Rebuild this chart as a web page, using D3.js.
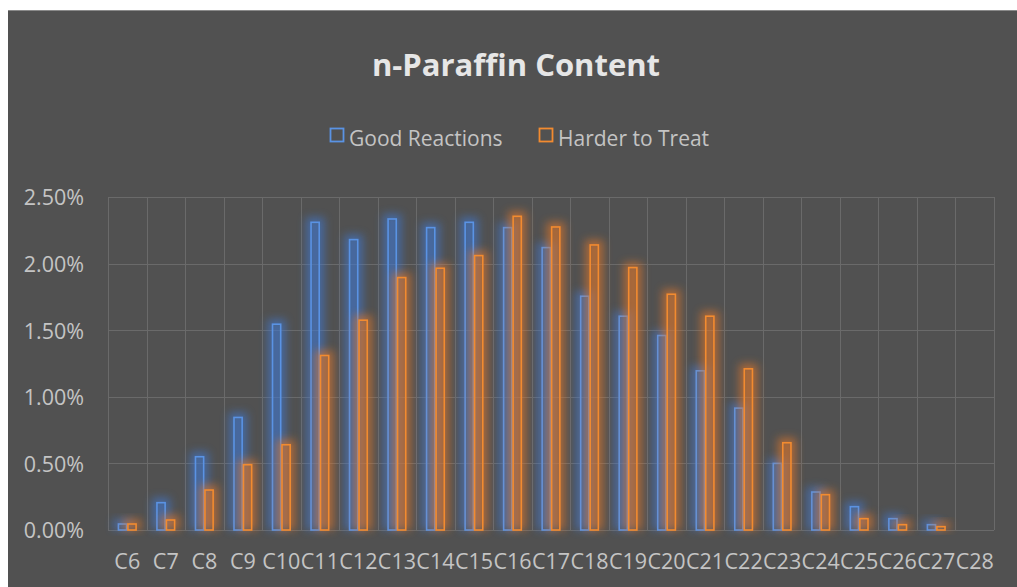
<!DOCTYPE html>
<html>
<head>
<meta charset="utf-8">
<script src="https://cdn.jsdelivr.net/npm/d3@7/dist/d3.min.js"></script>
<style>
  html, body { margin: 0; padding: 0; background: #ffffff; }
  svg { display: block; }
</style>
</head>
<body>
<svg id="chart" width="1017" height="587"></svg>
<script>
const categories = ["C6","C7","C8","C9","C10","C11","C12","C13","C14","C15","C16","C17","C18","C19","C20","C21","C22","C23","C24","C25","C26","C27","C28"];
const seriesNames = ["Good Reactions", "Harder to Treat"];
const goodReactions = [0.045,0.205,0.55,0.845,1.545,2.31,2.18,2.335,2.27,2.31,2.27,2.12,1.755,1.605,1.46,1.195,0.915,0.50,0.285,0.175,0.085,0.04,0];
const harderToTreat = [0.045,0.075,0.30,0.49,0.64,1.31,1.575,1.895,1.965,2.06,2.355,2.275,2.14,1.97,1.77,1.605,1.21,0.655,0.265,0.085,0.04,0.025,0];
const yTicks = [0, 0.5, 1.0, 1.5, 2.0, 2.5];
const colors = ["#5a93e4", "#f28b30"];
const glowColors = ["#3f78d0", "#e0772a"];

const svg = d3.select("#chart");
const W = 1017, H = 587;
const font = "'Open Sans', sans-serif";

// chart background
svg.append("rect").attr("x", 8).attr("y", 10).attr("width", W - 8).attr("height", H - 10)
  .attr("fill", "#515151");
svg.append("line").attr("x1", 8).attr("x2", W).attr("y1", 10.5).attr("y2", 10.5)
  .attr("stroke", "#8a8a8a").attr("stroke-width", 1);

const defs = svg.append("defs");
const f = defs.append("filter").attr("id", "glow")
  .attr("x", "-200%").attr("y", "-50%").attr("width", "500%").attr("height", "200%");
f.append("feGaussianBlur").attr("stdDeviation", 4);

const plot = { left: 108, right: 994, top: 197, bottom: 530 };

const x = d3.scaleBand().domain(categories).range([plot.left, plot.right]).paddingInner(0).paddingOuter(0);
const x1 = d3.scaleBand().domain(seriesNames).range([0, x.bandwidth()]).paddingInner(0.14).paddingOuter(1.1);
const y = d3.scaleLinear().domain([0, 2.5]).range([plot.bottom, plot.top]);

// gridlines
const grid = svg.append("g");
grid.selectAll("line.h").data(yTicks).join("line")
  .attr("x1", plot.left).attr("x2", plot.right)
  .attr("y1", d => Math.round(y(d)) + 0.5).attr("y2", d => Math.round(y(d)) + 0.5)
  .attr("stroke", "#6a6a6a").attr("stroke-width", 1);
const vlines = categories.map(c => x(c)).concat([plot.right]);
grid.selectAll("line.v").data(vlines).join("line")
  .attr("x1", d => Math.round(d) + 0.5).attr("x2", d => Math.round(d) + 0.5)
  .attr("y1", plot.top).attr("y2", plot.bottom)
  .attr("stroke", "#6a6a6a").attr("stroke-width", 1);

// title
svg.append("text").attr("x", 516).attr("y", 76).attr("text-anchor", "middle")
  .attr("font-family", font).attr("font-weight", "bold").attr("font-size", 31)
  .attr("fill", "#e6e6e6").text("n-Paraffin Content");

// legend
const legendItems = [{ name: seriesNames[0], x: 330 }, { name: seriesNames[1], x: 539 }];
legendItems.forEach((d, i) => {
  svg.append("rect").attr("x", d.x + 0.5).attr("y", 128.5).attr("width", 13).attr("height", 13)
    .attr("fill", "none").attr("stroke", colors[i]).attr("stroke-width", 1.8);
  svg.append("text").attr("x", d.x + 19).attr("y", 146)
    .attr("font-family", font).attr("font-size", 21).attr("fill", "#c4c4c4").text(d.name);
});

// bars
const seriesData = [goodReactions, harderToTreat];
seriesData.forEach((vals, si) => {
  const g = svg.append("g");
  const data = categories.map((c, i) => ({ c, v: vals[i] })).filter(d => d.v > 0);
  const bx = d => x(d.c) + x1(seriesNames[si]);
  const bw = x1.bandwidth();
  g.selectAll("rect.glow").data(data).join("rect")
    .attr("x", d => bx(d) - 5).attr("y", d => y(d.v) - 5)
    .attr("width", bw + 10).attr("height", d => y(0) - y(d.v) + 5)
    .attr("fill", glowColors[si]).attr("opacity", 0.62)
    .attr("filter", "url(#glow)");
  g.selectAll("rect.bar").data(data).join("rect")
    .attr("x", d => bx(d)).attr("y", d => y(d.v))
    .attr("width", bw).attr("height", d => y(0) - y(d.v))
    .attr("fill", "none").attr("stroke", colors[si]).attr("stroke-width", 1.6);
});

// y axis
const yAxis = d3.axisLeft(y).tickValues(yTicks).tickSize(0).tickPadding(0)
  .tickFormat(d => d.toFixed(2) + "%");
const ya = svg.append("g").attr("transform", `translate(84,1)`).call(yAxis);
ya.select(".domain").remove();
ya.selectAll("text").attr("font-family", font).attr("font-size", 21.5).attr("fill", "#c4c4c4");

// x axis
const xAxis = d3.axisBottom(x).tickSize(0).tickPadding(0);
const xa = svg.append("g").attr("transform", `translate(0,554)`).call(xAxis);
xa.select(".domain").remove();
xa.selectAll("text").attr("font-family", font).attr("font-size", 21.5).attr("fill", "#c4c4c4");
</script>
</body>
</html>
